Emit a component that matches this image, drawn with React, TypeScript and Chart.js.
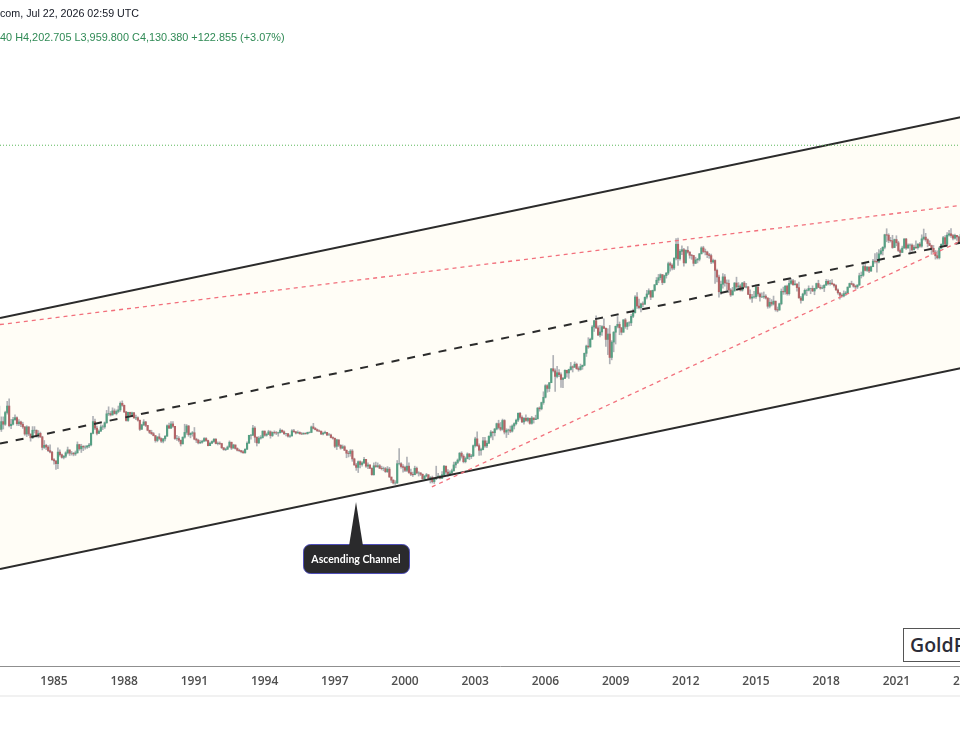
import React, { useEffect, useRef } from "react";
import { Chart, registerables } from "chart.js";

Chart.register(...registerables);

// ---------------- data (monthly candles, gold spot, USD) ----------------
const startYear = 1982;
const startMonth = 8; // first candle: Aug 1982
const firstOpen = 344;

const closes = [
  // 1982 Aug-Dec
  411, 397, 423, 414, 456,
  // 1983
  481, 409, 414, 430, 437, 416, 422, 414, 405, 382, 405, 382,
  // 1984
  370, 394, 394, 377, 384, 373, 342, 348, 343, 333, 329, 309,
  // 1985
  306, 299, 329, 322, 315, 318, 327, 335, 326, 326, 324, 327,
  // 1986
  350, 338, 345, 343, 343, 346, 349, 384, 423, 401, 384, 391,
  // 1987
  405, 405, 419, 451, 452, 447, 462, 452, 460, 466, 492, 484,
  // 1988
  458, 427, 457, 449, 455, 436, 437, 428, 397, 412, 422, 410,
  // 1989
  394, 387, 383, 377, 362, 373, 368, 360, 367, 375, 409, 401,
  // 1990
  415, 407, 368, 368, 363, 352, 372, 387, 408, 380, 384, 386,
  // 1991
  366, 363, 355, 357, 360, 368, 362, 347, 354, 359, 366, 353,
  // 1992
  354, 353, 341, 336, 337, 343, 357, 340, 349, 339, 334, 333,
  // 1993
  330, 327, 337, 354, 378, 378, 401, 372, 355, 369, 371, 391,
  // 1994
  378, 381, 389, 377, 387, 386, 385, 386, 394, 389, 383, 383,
  // 1995
  375, 376, 392, 389, 385, 387, 383, 382, 384, 383, 387, 387,
  // 1996
  405, 400, 396, 392, 391, 382, 385, 387, 379, 379, 371, 369,
  // 1997
  345, 364, 348, 340, 344, 334, 326, 325, 332, 311, 296, 290,
  // 1998
  304, 297, 301, 310, 293, 296, 288, 273, 294, 292, 294, 288,
  // 1999
  287, 287, 280, 286, 268, 261, 255, 255, 299, 299, 292, 290,
  // 2000
  283, 293, 278, 274, 273, 288, 277, 277, 274, 264, 270, 273,
  // 2001
  265, 267, 258, 264, 267, 270, 265, 273, 293, 279, 275, 277,
  // 2002
  282, 296, 302, 308, 326, 318, 304, 312, 324, 317, 319, 347,
  // 2003
  367, 347, 334, 336, 361, 346, 354, 375, 388, 386, 398, 416,
  // 2004
  403, 397, 427, 388, 394, 395, 391, 408, 416, 428, 453, 438,
  // 2005
  422, 435, 427, 435, 417, 436, 430, 433, 473, 470, 495, 517,
  // 2006
  569, 556, 583, 654, 643, 614, 633, 623, 599, 604, 646, 632,
  // 2007
  650, 665, 662, 679, 655, 650, 666, 673, 743, 789, 783, 834,
  // 2008
  923, 972, 916, 864, 886, 926, 913, 833, 871, 718, 815, 884,
  // 2009
  928, 943, 917, 884, 979, 927, 955, 955, 1008, 1039, 1182, 1097,
  // 2010
  1082, 1117, 1113, 1180, 1212, 1244, 1181, 1248, 1307, 1357, 1386, 1421,
  // 2011
  1332, 1410, 1439, 1556, 1536, 1500, 1628, 1826, 1620, 1722, 1746, 1566,
  // 2012
  1737, 1711, 1668, 1664, 1560, 1604, 1614, 1687, 1772, 1719, 1713, 1675,
  // 2013
  1663, 1578, 1597, 1472, 1393, 1234, 1313, 1395, 1327, 1323, 1253, 1202,
  // 2014
  1244, 1326, 1284, 1295, 1250, 1327, 1282, 1286, 1208, 1171, 1182, 1184,
  // 2015
  1283, 1212, 1183, 1183, 1190, 1172, 1095, 1132, 1115, 1142, 1065, 1061,
  // 2016
  1118, 1238, 1233, 1293, 1215, 1322, 1351, 1309, 1316, 1277, 1173, 1151,
  // 2017
  1211, 1249, 1249, 1268, 1268, 1242, 1269, 1321, 1280, 1271, 1275, 1303,
  // 2018
  1345, 1318, 1325, 1315, 1299, 1253, 1224, 1200, 1192, 1215, 1222, 1282,
  // 2019
  1321, 1313, 1292, 1284, 1305, 1409, 1414, 1520, 1472, 1513, 1464, 1517,
  // 2020
  1589, 1585, 1577, 1687, 1730, 1781, 1975, 1968, 1886, 1879, 1777, 1898,
  // 2021
  1848, 1734, 1707, 1769, 1907, 1770, 1814, 1814, 1743, 1783, 1775, 1829,
  // 2022
  1797, 1909, 1937, 1897, 1838, 1807, 1766, 1711, 1661, 1633, 1769, 1824,
  // 2023
  1928, 1827, 1969, 1990, 1962, 1919, 1965, 1940, 1849, 1983, 2036, 2063,
];

const highs = [
  415, 481, 440, 440, 461,
  500, 510, 431, 438, 447, 440, 430, 425, 421, 406, 409, 406,
  382, 406, 406, 395, 393, 388, 375, 362, 351, 347, 349, 331,
  312, 306, 341, 335, 324, 320, 330, 343, 335, 331, 328, 332,
  358, 351, 351, 347, 347, 348, 354, 386, 442, 432, 408, 395,
  412, 411, 422, 464, 478, 460, 474, 470, 466, 481, 498, 502,
  485, 460, 457, 457, 458, 457, 446, 440, 428, 414, 430, 424,
  410, 394, 394, 387, 377, 373, 383, 370, 368, 377, 412, 418,
  423, 423, 407, 378, 374, 363, 373, 414, 413, 410, 386, 390,
  403, 369, 366, 362, 363, 371, 371, 363, 357, 361, 368, 368,
  358, 358, 354, 341, 340, 346, 361, 357, 351, 349, 341, 337,
  334, 333, 338, 358, 378, 381, 410, 406, 373, 374, 377, 392,
  392, 385, 394, 392, 389, 392, 390, 388, 399, 395, 392, 384,
  384, 379, 396, 397, 390, 392, 389, 387, 386, 386, 388, 389,
  408, 417, 403, 398, 395, 391, 388, 391, 387, 384, 382, 373,
  369, 366, 364, 350, 349, 347, 335, 331, 336, 336, 313, 300,
  306, 306, 304, 315, 310, 301, 296, 289, 301, 303, 301, 297,
  293, 291, 290, 292, 290, 267, 262, 260, 307, 339, 302, 297,
  293, 316, 301, 286, 279, 293, 291, 280, 278, 275, 271, 276,
  273, 269, 270, 266, 293, 276, 271, 280, 295, 293, 285, 282,
  286, 303, 304, 311, 328, 330, 322, 316, 327, 325, 323, 349,
  372, 389, 352, 340, 372, 372, 361, 376, 393, 390, 400, 418,
  428, 420, 432, 430, 399, 398, 408, 412, 419, 432, 455, 457,
  444, 437, 447, 437, 435, 442, 436, 446, 475, 478, 497, 541,
  574, 574, 584, 655, 730, 654, 668, 650, 632, 610, 649, 640,
  652, 689, 670, 692, 685, 665, 680, 675, 745, 795, 845, 842,
  934, 976, 1011, 932, 936, 933, 987, 916, 910, 935, 825, 889,
  931, 1006, 962, 919, 980, 990, 960, 965, 1024, 1070, 1195, 1227,
  1162, 1125, 1136, 1181, 1249, 1265, 1246, 1251, 1310, 1388, 1424, 1431,
  1423, 1416, 1447, 1576, 1577, 1553, 1632, 1913, 1921, 1746, 1804, 1764,
  1745, 1791, 1718, 1679, 1667, 1641, 1626, 1694, 1790, 1796, 1755, 1725,
  1694, 1684, 1617, 1605, 1488, 1417, 1348, 1434, 1423, 1361, 1361, 1268,
  1280, 1332, 1392, 1331, 1315, 1332, 1345, 1323, 1287, 1255, 1208, 1238,
  1307, 1287, 1224, 1224, 1232, 1205, 1175, 1170, 1157, 1191, 1143, 1088,
  1124, 1263, 1283, 1298, 1304, 1362, 1375, 1367, 1352, 1317, 1337, 1188,
  1220, 1264, 1262, 1296, 1271, 1296, 1271, 1326, 1357, 1306, 1299, 1307,
  1366, 1361, 1356, 1365, 1316, 1309, 1265, 1225, 1214, 1243, 1237, 1284,
  1326, 1347, 1324, 1303, 1306, 1439, 1453, 1555, 1557, 1518, 1516, 1524,
  1611, 1689, 1704, 1748, 1765, 1789, 1984, 2075, 1992, 1933, 1966, 1906,
  1959, 1872, 1756, 1798, 1913, 1917, 1832, 1834, 1834, 1814, 1877, 1832,
  1853, 1974, 2070, 1998, 1910, 1880, 1814, 1808, 1735, 1730, 1786, 1833,
  1949, 1960, 2009, 2048, 2079, 1983, 1987, 1949, 1953, 2009, 2052, 2135,
];

const lows = [
  330, 395, 390, 398, 410,
  450, 405, 399, 412, 427, 410, 409, 406, 400, 378, 374, 377,
  360, 368, 385, 372, 370, 371, 335, 339, 336, 330, 327, 307,
  298, 285, 287, 318, 313, 311, 314, 324, 320, 321, 319, 320,
  326, 334, 328, 333, 337, 339, 341, 346, 382, 396, 379, 383,
  390, 396, 400, 417, 445, 443, 446, 450, 447, 455, 460, 480,
  456, 425, 424, 445, 446, 435, 430, 425, 393, 397, 409, 406,
  392, 383, 380, 376, 357, 358, 364, 356, 355, 361, 375, 399,
  399, 403, 365, 362, 358, 346, 352, 369, 381, 375, 370, 375,
  364, 356, 352, 353, 354, 360, 359, 346, 347, 353, 356, 352,
  349, 350, 339, 334, 333, 336, 343, 336, 340, 337, 332, 330,
  327, 326, 326, 336, 354, 366, 377, 356, 346, 353, 366, 369,
  375, 375, 380, 369, 374, 382, 380, 375, 385, 386, 380, 376,
  372, 371, 375, 388, 382, 385, 381, 380, 381, 381, 381, 385,
  386, 398, 395, 390, 389, 380, 379, 384, 377, 378, 370, 366,
  341, 336, 344, 337, 339, 333, 314, 316, 318, 305, 295, 283,
  278, 289, 293, 299, 290, 287, 287, 272, 272, 290, 290, 287,
  284, 282, 278, 278, 267, 256, 253, 252, 254, 296, 288, 279,
  280, 280, 276, 271, 269, 273, 275, 270, 271, 263, 263, 268,
  263, 255, 255, 254, 262, 266, 264, 265, 271, 274, 270, 271,
  276, 281, 289, 299, 305, 313, 301, 301, 311, 309, 312, 317,
  343, 345, 320, 321, 335, 342, 341, 353, 370, 364, 376, 395,
  398, 392, 394, 382, 371, 380, 386, 388, 398, 412, 423, 432,
  419, 414, 424, 422, 414, 414, 418, 430, 432, 461, 466, 488,
  514, 539, 542, 584, 637, 543, 606, 613, 561, 560, 603, 610,
  604, 646, 637, 662, 651, 641, 646, 651, 670, 724, 774, 781,
  833, 890, 911, 860, 851, 861, 910, 786, 735, 681, 704, 752,
  802, 916, 866, 865, 884, 913, 905, 931, 933, 996, 1034, 1076,
  1072, 1045, 1088, 1113, 1163, 1204, 1156, 1182, 1241, 1309, 1329, 1360,
  1308, 1327, 1381, 1420, 1462, 1478, 1480, 1605, 1535, 1600, 1677, 1523,
  1563, 1696, 1627, 1613, 1527, 1555, 1565, 1591, 1686, 1701, 1672, 1635,
  1626, 1555, 1562, 1321, 1338, 1180, 1207, 1270, 1292, 1251, 1226, 1187,
  1202, 1238, 1277, 1268, 1241, 1240, 1281, 1273, 1205, 1160, 1131, 1170,
  1167, 1191, 1142, 1175, 1169, 1162, 1077, 1080, 1098, 1106, 1052, 1046,
  1061, 1108, 1208, 1209, 1200, 1200, 1311, 1300, 1302, 1241, 1171, 1123,
  1146, 1200, 1195, 1242, 1214, 1236, 1204, 1262, 1277, 1260, 1264, 1236,
  1302, 1307, 1303, 1311, 1282, 1247, 1211, 1160, 1180, 1183, 1196, 1221,
  1276, 1307, 1281, 1266, 1267, 1301, 1382, 1400, 1465, 1459, 1445, 1458,
  1517, 1563, 1451, 1567, 1671, 1671, 1757, 1863, 1849, 1859, 1765, 1776,
  1802, 1717, 1677, 1705, 1767, 1750, 1767, 1687, 1721, 1746, 1759, 1753,
  1780, 1781, 1890, 1872, 1787, 1805, 1681, 1710, 1615, 1617, 1616, 1765,
  1823, 1804, 1810, 1950, 1932, 1893, 1903, 1884, 1846, 1810, 1931, 1973,
];

// x-axis tick labels (years)
const tickYears = [1985, 1988, 1991, 1994, 1997, 2000, 2003, 2006, 2009, 2012, 2015, 2018, 2021, 2024];

// visible range
const xRange = [1982.692, 2025.427];
const yRange = [56.4, 13680];

// drawn lines: [time, price] end points
const channelUpper = [{ x: 1982.692, y: 994 }, { x: 2025.427, y: 5568 }];
const channelLower = [{ x: 1982.692, y: 125.5 }, { x: 2025.427, y: 703 }];
const channelMid = [{ x: 1982.692, y: 353 }, { x: 2025.427, y: 1979 }];
const redUpper = [{ x: 1982.692, y: 942 }, { x: 2025.427, y: 2619 }];
const redLower = [{ x: 2001.15, y: 247 }, { x: 2025.427, y: 2177 }];
const lastPrice = 4130.38;

const calloutAnchor = { x: 1997.906, y: 218 };
const calloutText = "Ascending Channel";

const headerLine1 = "com, Jul 22, 2026 02:59 UTC";
const headerLine2 = "40 H4,202.705 L3,959.800 C4,130.380 +122.855 (+3.07%)";
const watermark = "GoldPrice.org";

const calloutPlugin = {
  id: "callout",
  afterDatasetsDraw(chart: any) {
    const { ctx, scales } = chart;
    const tx = scales.x.getPixelForValue(calloutAnchor.x);
    const ty = scales.y.getPixelForValue(calloutAnchor.y);
    const bw = 106;
    const bh = 29;
    const top = ty + 42;
    const left = tx - bw / 2;
    ctx.save();
    ctx.beginPath();
    ctx.roundRect(left + 0.5, top + 0.5, bw, bh, 7);
    ctx.fillStyle = "#2a2a2c";
    ctx.fill();
    ctx.strokeStyle = "rgba(70,70,190,0.9)";
    ctx.lineWidth = 1;
    ctx.stroke();
    ctx.beginPath();
    ctx.moveTo(tx - 7, top + 2);
    ctx.lineTo(tx, ty);
    ctx.lineTo(tx + 7, top + 2);
    ctx.closePath();
    ctx.fillStyle = "#2a2a2c";
    ctx.fill();
    ctx.fillStyle = "#ffffff";
    ctx.font = "bold 10.5px Lato";
    ctx.textAlign = "center";
    ctx.textBaseline = "middle";
    ctx.fillText(calloutText, tx, top + bh / 2 + 1);
    ctx.restore();
  },
};

export default function App() {
  const ref = useRef<HTMLCanvasElement>(null);

  useEffect(() => {
    const opens = closes.map((c, i) => (i === 0 ? firstOpen : closes[i - 1]));
    const times = closes.map((_, i) => startYear + (startMonth - 1 + i) / 12);
    const up = closes.map((c, i) => c >= opens[i]);
    const wicks = times.map((t, i) => ({ x: t, y: [lows[i], highs[i]] }));
    const bodies = times.map((t, i) => ({ x: t, y: [opens[i], closes[i]] }));
    const lineBase = { type: "line", pointRadius: 0, fill: false, tension: 0 };

    const chart = new Chart(ref.current as HTMLCanvasElement, {
      type: "bar",
      data: {
        datasets: [
          { ...lineBase, data: channelUpper, borderColor: "rgba(0,0,0,0)", borderWidth: 1, fill: "+1", backgroundColor: "#fffdf6", order: 20 },
          { ...lineBase, data: channelLower, borderColor: "rgba(0,0,0,0)", borderWidth: 1, order: 19 },
          { type: "bar", data: wicks, backgroundColor: "#b0b2b6", barThickness: 1, grouped: false, order: 10 },
          { type: "bar", data: bodies, backgroundColor: up.map((u) => (u ? "#55a083" : "#b46466")), barThickness: 1.5, grouped: false, order: 9 },
          { ...lineBase, data: channelUpper, borderColor: "#2b2b2b", borderWidth: 2, order: 5 },
          { ...lineBase, data: channelLower, borderColor: "#2b2b2b", borderWidth: 2, order: 5 },
          { ...lineBase, data: channelMid, borderColor: "#2b2b2b", borderWidth: 2, borderDash: [8, 8], order: 4 },
          { ...lineBase, data: redUpper, borderColor: "#f2707c", borderWidth: 1.3, borderDash: [4, 4], order: 3 },
          { ...lineBase, data: redLower, borderColor: "#f2707c", borderWidth: 1.3, borderDash: [4, 4], order: 3 },
          { ...lineBase, data: [{ x: xRange[0], y: lastPrice }, { x: xRange[1], y: lastPrice }], borderColor: "#5cb85c", borderWidth: 1, borderDash: [1, 2], order: 2 },
        ] as any,
      },
      options: {
        responsive: false,
        maintainAspectRatio: false,
        animation: false,
        layout: { padding: 0 },
        plugins: { legend: { display: false }, tooltip: { enabled: false } },
        scales: {
          x: {
            type: "linear",
            min: xRange[0],
            max: xRange[1],
            offset: false,
            grid: { display: false, drawTicks: false },
            border: { display: true, color: "#8f8f8f", width: 1 },
            afterBuildTicks: (s: any) => {
              s.ticks = tickYears.map((v) => ({ value: v }));
            },
            afterFit: (s: any) => {
              s.height = 84;
            },
            ticks: {
              autoSkip: false,
              maxRotation: 0,
              padding: 8,
              color: "#4f4f4f",
              font: { family: "Open Sans", size: 12, weight: "600" },
              callback: (v: any) => String(v),
            },
          },
          y: { type: "logarithmic", min: yRange[0], max: yRange[1], display: false },
        },
      } as any,
      plugins: [calloutPlugin],
    });
    return () => chart.destroy();
  }, []);

  return (
    <div style={{ position: "fixed", left: 0, top: 0, width: 960, height: 750, overflow: "hidden", background: "#ffffff" }}>
      <canvas ref={ref} width={1000} height={750} style={{ position: "absolute", left: 0, top: 0, display: "block" }} />
      <div style={{ position: "absolute", left: 0, top: 7, font: "10.7px 'Liberation Sans'", lineHeight: "13px", color: "#131722", whiteSpace: "nowrap" }}>
        {headerLine1}
      </div>
      <div style={{ position: "absolute", left: 0, top: 31, font: "10.9px 'Liberation Sans'", lineHeight: "13px", color: "#2f8a55", whiteSpace: "nowrap" }}>
        {headerLine2}
      </div>
      <div style={{ position: "absolute", left: 0, top: 695, width: 960, height: 2, background: "#f1f1f1" }} />
      <div
        style={{
          position: "absolute",
          left: 903,
          top: 628,
          height: 32,
          paddingLeft: 6,
          paddingRight: 8,
          border: "1px solid #555",
          background: "#ffffff",
          font: "600 19.5px 'Open Sans'",
          lineHeight: "32px",
          color: "#2c2c38",
          whiteSpace: "nowrap",
        }}
      >
        {watermark}
      </div>
    </div>
  );
}
